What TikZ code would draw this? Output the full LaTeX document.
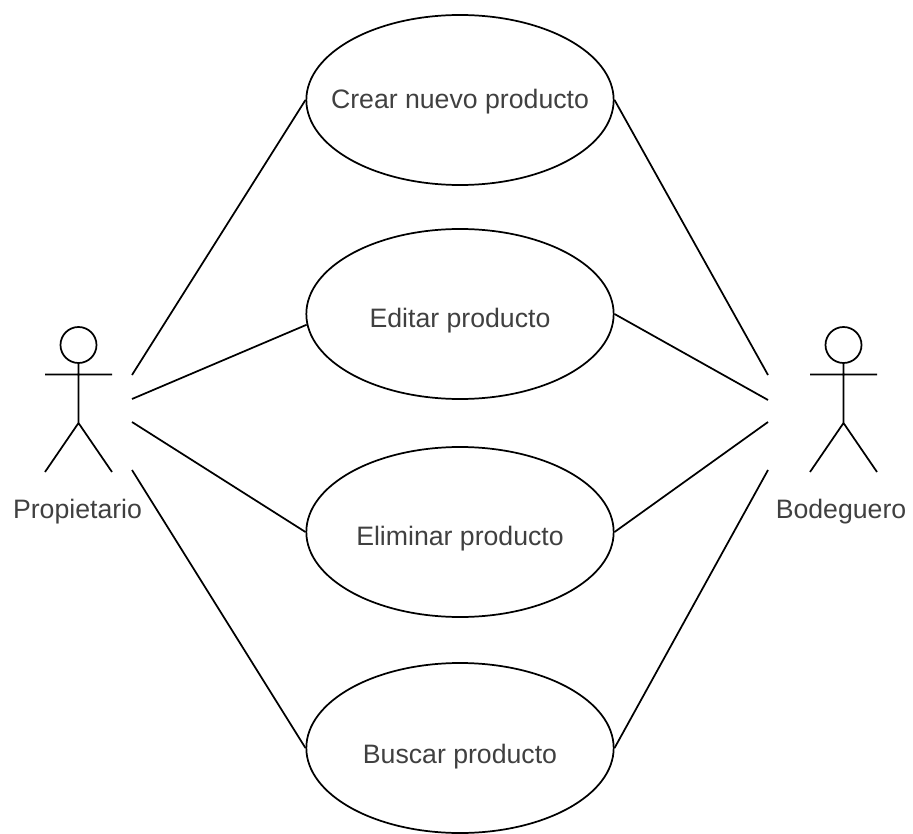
\documentclass[tikz,border=0pt]{standalone}
\usepackage{fontspec}
\setmainfont{Liberation Sans}
\usetikzlibrary{shapes}

\begin{document}
\begin{tikzpicture}[x=0.75pt,y=-0.75pt]
\tikzstyle{usecase}=[
	ellipse,
	draw,
	line width=1.3pt,
	minimum width=230.5pt,
	minimum height=127.5pt,
	inner xsep=-30pt,
	inner ysep=0pt,
	text depth=0pt,
	font=\fontsize{20}{22}\selectfont,
	text=black!75 ]
\tikzstyle{head}=[circle, draw, line width=1.3pt, minimum size=27pt, inner sep=0pt]
\tikzstyle{actorname}=[anchor=base, font=\fontsize{20}{22}\selectfont, text=black!75, inner sep=0pt]
\tikzstyle{line}=[line width=1.3pt]
\useasboundingbox (0,0) rectangle (913,834);
\node[usecase, text height=12.4pt] (crear) at (460,100) {Crear nuevo producto};
\node[usecase, text height=20pt] (editar) at (460,314) {Editar producto};
\node[usecase, text height=20.6pt] (eliminar) at (460,532) {Eliminar producto};
\node[usecase, text height=23pt] (buscar) at (460,748) {Buscar producto};

% propietario
\node[head] (headP) at (78.5,345) {};
\coordinate (hipP) at (78.5,423);
\coordinate (armLP) at (45,374.5);
\coordinate (armRP) at (112,374.5);
\coordinate (footLP) at (45,472);
\coordinate (footRP) at (112,472);
\draw[line] (headP.south) -- (hipP) (armLP) -- (armRP) (footLP) -- (hipP) -- (footRP);
\node[actorname] (propietario) at (77.5,518) {Propietario};

% bodeguero
\node[head] (headB) at (843.5,345) {};
\coordinate (hipB) at (843.5,423);
\coordinate (armLB) at (810,374.5);
\coordinate (armRB) at (877,374.5);
\coordinate (footLB) at (810,472);
\coordinate (footRB) at (877,472);
\draw[line] (headB.south) -- (hipB) (armLB) -- (armRB) (footLB) -- (hipB) -- (footRB);
\node[actorname] (bodeguero) at (841,518) {Bodeguero};

% free ends
\coordinate (p1) at (132,375);
\coordinate (p2) at (132,399);
\coordinate (p3) at (132,422);
\coordinate (p4) at (132,470);
\coordinate (b1) at (768,375);
\coordinate (b2) at (768,400);
\coordinate (b3) at (768,422);
\coordinate (b4) at (768,470);

\draw[line] (p1) -- (crear.west);
\draw[line] (p2) -- (editar.184.5);
\draw[line] (p3) -- (eliminar.west);
\draw[line] (p4) -- (buscar.west);
\draw[line] (b1) -- (crear.east);
\draw[line] (b2) -- (editar.east);
\draw[line] (b3) -- (eliminar.east);
\draw[line] (b4) -- (buscar.east);
\end{tikzpicture}
\end{document}
